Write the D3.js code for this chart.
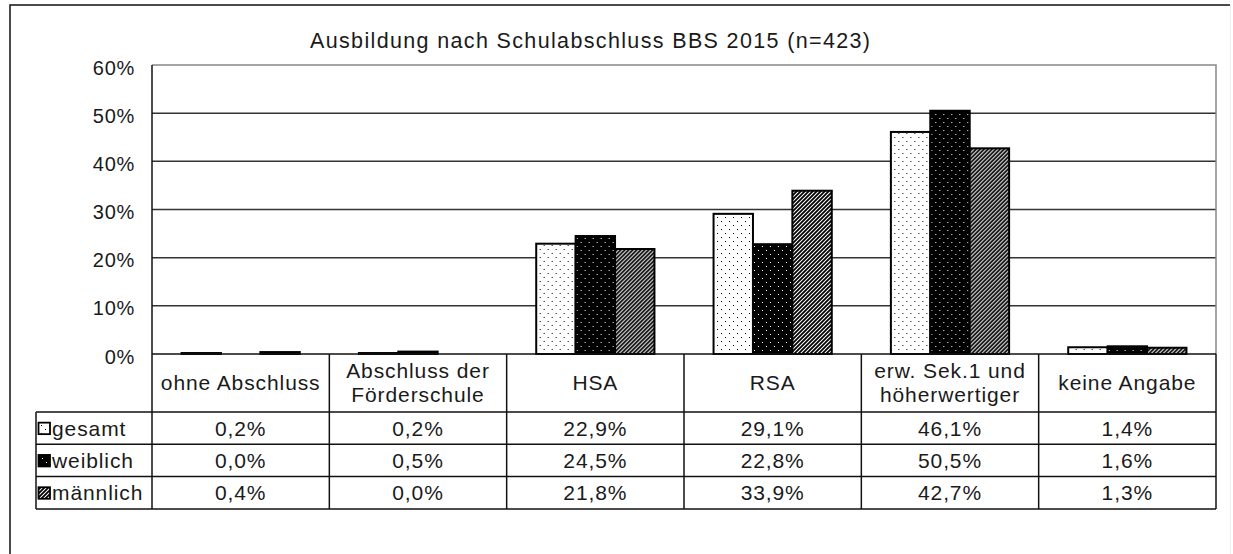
<!DOCTYPE html>
<html>
<head>
<meta charset="utf-8">
<script src="https://cdn.jsdelivr.net/npm/d3@7"></script>
<style>
  body { margin: 0; background: #fff; }
  svg { display: block; font-family: "Liberation Sans", Arial, sans-serif; }
</style>
</head>
<body>
<div id="chart"></div>
<script>
const categories = ['ohne Abschluss', 'Abschluss der|Förderschule', 'HSA', 'RSA', 'erw. Sek.1 und|höherwertiger', 'keine Angabe']
const seriesNames = ['gesamt', 'weiblich', 'männlich']
const gesamt = [0.2, 0.2, 22.9, 29.1, 46.1, 1.4]
const weiblich = [0.0, 0.5, 24.5, 22.8, 50.5, 1.6]
const maennlich = [0.4, 0.0, 21.8, 33.9, 42.7, 1.3]
const yTicks = [0, 10, 20, 30, 40, 50, 60]
const title = 'Ausbildung nach Schulabschluss BBS 2015 (n=423)'

const values = [gesamt, weiblich, maennlich]
const fmt = v => v.toFixed(1).replace('.', ',') + '%'

const width = 1233, height = 554
const plot = { left: 152, right: 1216, top: 65, bottom: 354 }
const tableLeft = 36
const headerBottom = 412
const rowH = 32.3

const svg = d3.select('#chart').append('svg')
  .attr('width', width)
  .attr('height', height)

// fill patterns (Excel-like)
const defs = svg.append('defs')
const pDots = defs.append('pattern').attr('id', 'p-gesamt')
  .attr('patternUnits', 'userSpaceOnUse').attr('width', 8).attr('height', 8)
pDots.append('rect').attr('width', 8).attr('height', 8).attr('fill', '#fff')
pDots.append('rect').attr('x', 1).attr('y', 1).attr('width', 1).attr('height', 1).attr('fill', '#000')
pDots.append('rect').attr('x', 5).attr('y', 5).attr('width', 1).attr('height', 1).attr('fill', '#000')

const pBlack = defs.append('pattern').attr('id', 'p-weiblich')
  .attr('patternUnits', 'userSpaceOnUse').attr('width', 8).attr('height', 8)
pBlack.append('rect').attr('width', 8).attr('height', 8).attr('fill', '#000')
pBlack.append('rect').attr('x', 2).attr('y', 2).attr('width', 1).attr('height', 1).attr('fill', '#fff')
pBlack.append('rect').attr('x', 6).attr('y', 6).attr('width', 1).attr('height', 1).attr('fill', '#fff')

const pStripe = defs.append('pattern').attr('id', 'p-maennlich')
  .attr('patternUnits', 'userSpaceOnUse').attr('width', 4).attr('height', 4)
pStripe.append('rect').attr('width', 4).attr('height', 4).attr('fill', '#fff')
pStripe.append('path').attr('d', 'M-1,1 l2,-2 M0,4 l4,-4 M3,5 l2,-2')
  .attr('stroke', '#000').attr('stroke-width', 1.8)

const fills = ['url(#p-gesamt)', 'url(#p-weiblich)', 'url(#p-maennlich)']

// outer frame
svg.append('path').attr('d', `M10,${height} V5 H1230`)
  .attr('fill', 'none').attr('stroke', '#111').attr('stroke-width', 1.5)
svg.append('line').attr('x1', 1230.5).attr('x2', 1230.5).attr('y1', 5).attr('y2', height)
  .attr('stroke', '#f0f0f0')

// title
svg.append('text')
  .attr('x', 310).attr('y', 48)
  .attr('textLength', 560).attr('lengthAdjust', 'spacing')
  .style('font-size', '21.5px').attr('fill', '#1a1a1a')
  .text(title)

// scales
const x0 = d3.scaleBand().domain(d3.range(categories.length)).range([plot.left, plot.right])
const x1 = d3.scaleBand().domain(d3.range(seriesNames.length)).range([0, x0.bandwidth()])
  .paddingInner(0).paddingOuter(0.75)
const y = d3.scaleLinear().domain([0, 60]).range([plot.bottom, plot.top])

// grid
svg.append('g').selectAll('line').data(yTicks.filter(t => t > 0 && t < 60)).join('line')
  .attr('x1', plot.left).attr('x2', plot.right)
  .attr('y1', d => y(d)).attr('y2', d => y(d))
  .attr('stroke', '#333').attr('stroke-width', 1.5)
svg.append('path')
  .attr('d', `M${plot.left},${y(60)} H${plot.right} V${plot.bottom}`)
  .attr('fill', 'none').attr('stroke', '#888').attr('stroke-width', 1.5)

// y axis labels
const yAxis = svg.append('g').attr('transform', `translate(${plot.left},0)`)
  .call(d3.axisLeft(y).tickValues(yTicks).tickFormat(d => d + '%').tickSize(0).tickPadding(17))
yAxis.select('.domain').remove()
yAxis.selectAll('text').style('font-size', '20px').style('letter-spacing', '0.7px')
  .attr('fill', '#1a1a1a')
  .attr('font-family', '"Liberation Sans", Arial, sans-serif').attr('dy', '0.45em')

// bars
const groups = svg.append('g').selectAll('g').data(categories.map((c, i) => i)).join('g')
  .attr('transform', i => `translate(${x0(i)},0)`)
groups.selectAll('rect')
  .data(i => values.map((s, k) => ({ k, v: s[i] })))
  .join('rect')
  .attr('x', d => x1(d.k))
  .attr('width', x1.bandwidth())
  .attr('y', d => y(d.v))
  .attr('height', d => y(0) - y(d.v))
  .attr('fill', d => fills[d.k])
  .attr('stroke', '#000').attr('stroke-width', 2)

// data table under the plot
const t = svg.append('g')
const rowY = k => headerBottom + k * rowH
const lineStyle = sel => sel.attr('stroke', '#111').attr('stroke-width', 1.5)
const cellText = sel => sel.style('font-size', '21px').style('letter-spacing', '0.9px').attr('fill', '#1a1a1a')

t.append('line').attr('x1', plot.left).attr('x2', plot.right)
  .attr('y1', plot.bottom).attr('y2', plot.bottom).call(lineStyle)
t.selectAll('.hrow').data(d3.range(seriesNames.length + 1)).join('line')
  .attr('x1', tableLeft).attr('x2', plot.right)
  .attr('y1', k => rowY(k)).attr('y2', k => rowY(k)).call(lineStyle)
t.append('line').attr('x1', plot.left).attr('x2', plot.left)
  .attr('y1', plot.top).attr('y2', rowY(3)).call(lineStyle)
t.append('line').attr('x1', tableLeft).attr('x2', tableLeft)
  .attr('y1', headerBottom).attr('y2', rowY(3)).call(lineStyle)
t.selectAll('.vcol').data(d3.range(1, categories.length + 1)).join('line')
  .attr('x1', i => x0(0) + i * x0.step()).attr('x2', i => x0(0) + i * x0.step())
  .attr('y1', plot.bottom).attr('y2', rowY(3)).call(lineStyle)

// header labels
const hdr = t.selectAll('.hdr').data(categories).join('text')
  .attr('text-anchor', 'middle')
  .attr('x', (c, i) => x0(i) + x0.bandwidth() / 2)
  .call(cellText)
hdr.each(function (c) {
  const parts = c.split('|')
  const mid = (plot.bottom + headerBottom) / 2
  d3.select(this).selectAll('tspan').data(parts).join('tspan')
    .attr('x', d3.select(this).attr('x'))
    .attr('y', (p, j) => mid + 7 + (j - (parts.length - 1) / 2) * 24)
    .text(p => p)
})

// value cells
values.forEach((s, k) => {
  t.append('g').selectAll('text').data(s).join('text')
    .attr('text-anchor', 'middle')
    .attr('x', (v, i) => x0(i) + x0.bandwidth() / 2)
    .attr('y', rowY(k) + rowH / 2 + 7.5)
    .call(cellText)
    .text(fmt)
})

// row labels with legend keys
seriesNames.forEach((n, k) => {
  const cy = rowY(k) + rowH / 2
  t.append('rect').attr('x', 38.5).attr('y', cy - 5.5).attr('width', 11.5).attr('height', 11.5)
    .attr('fill', fills[k]).attr('stroke', '#000').attr('stroke-width', 1.8)
  t.append('text').attr('x', 52).attr('y', cy + 7.5)
    .call(cellText)
    .text(n)
})
</script>
</body>
</html>
